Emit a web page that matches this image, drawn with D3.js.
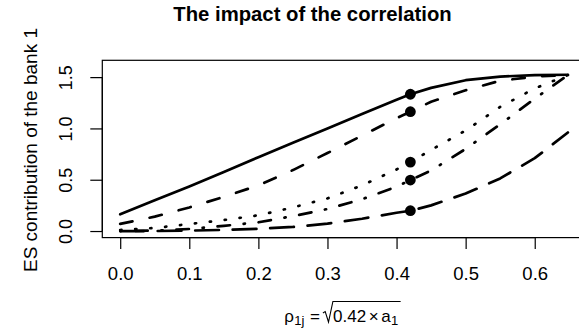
<!DOCTYPE html>
<html>
<head>
<meta charset="utf-8">
<script src="https://cdn.jsdelivr.net/npm/d3@7"></script>
<style>
  body { margin: 0; background: #fff; }
  svg { display: block; font-family: "Liberation Sans", Arial, sans-serif; }
</style>
</head>
<body>
<div id="chart"></div>
<script>
// rho_1j values where the ES contribution was evaluated
const rho = [0, 0.05, 0.1, 0.15, 0.2, 0.25, 0.3, 0.35, 0.4, 0.42, 0.45, 0.5, 0.55, 0.6, 0.648];

// ES contribution of bank 1, one array per curve
const esSolid    = [0.163, 0.30, 0.435, 0.575, 0.72, 0.86, 1.00, 1.14, 1.28, 1.333, 1.395, 1.47, 1.505, 1.52, 1.523];
const esDashed   = [0.07, 0.14, 0.23, 0.333, 0.445, 0.594, 0.76, 0.93, 1.10, 1.163, 1.26, 1.372, 1.465, 1.505, 1.52];
const esDotted   = [0.01, 0.03, 0.068, 0.107, 0.153, 0.23, 0.318, 0.445, 0.60, 0.672, 0.79, 0.98, 1.21, 1.39, 1.52];
const esDotDash  = [0, 0.004, 0.02, 0.05, 0.085, 0.145, 0.215, 0.31, 0.432, 0.497, 0.59, 0.80, 1.04, 1.29, 1.52];
const esLongDash = [0, 0, 0.004, 0.011, 0.022, 0.04, 0.072, 0.12, 0.178, 0.198, 0.25, 0.365, 0.513, 0.71, 0.96];

// marked point on each curve
const markRho = 0.42;

const xTicks = [0, 0.1, 0.2, 0.3, 0.4, 0.5, 0.6];
const yTicks = [0, 0.5, 1.0, 1.5];

const titleText = "The impact of the correlation";
const yLabel = "ES contribution of the bank 1";

const series = [
  { values: esSolid,    dash: null },
  { values: esDashed,   dash: "12.5 17.5" },
  { values: esDotted,   dash: "1.25 13.75" },
  { values: esDotDash,  dash: "1.25 13.75 12.5 13.75" },
  { values: esLongDash, dash: "23.75 13.75" }
];

const W = 579, H = 331;
const BOX = { LEFT: 102.3, RIGHT: 585.8, TOP: 60.3, BOTTOM: 237.6 };
const FONT = "Liberation Sans, Arial, sans-serif";

const svg = d3.select("#chart").append("svg")
  .attr("width", W)
  .attr("height", H);

// R style 4% padding around data range
const xPad = (d3.max(rho) - 0) * 0.04;
const x = d3.scaleLinear()
  .domain([0 - xPad, d3.max(rho) + xPad])
  .range([BOX.LEFT, BOX.RIGHT]);

const yPad = 1.6 * 0.04;
const y = d3.scaleLinear()
  .domain([0 - yPad, 1.6 + yPad])
  .range([BOX.BOTTOM, BOX.TOP]);

// title
svg.append("text")
  .attr("x", 312.5)
  .attr("y", 20.5)
  .attr("text-anchor", "middle")
  .attr("font-size", "20.3px")
  .attr("font-weight", "bold")
  .text(titleText);

// box
svg.append("rect")
  .attr("x", BOX.LEFT)
  .attr("y", BOX.TOP)
  .attr("width", BOX.RIGHT - BOX.LEFT)
  .attr("height", BOX.BOTTOM - BOX.TOP)
  .attr("fill", "none")
  .attr("stroke", "#000")
  .attr("stroke-width", 1.2);

// x axis
const xAxis = d3.axisBottom(x)
  .tickValues(xTicks)
  .tickSize(11.5)
  .tickPadding(0)
  .tickFormat(d3.format(".1f"));

const gx = svg.append("g")
  .attr("transform", `translate(0, ${BOX.BOTTOM})`)
  .call(xAxis);
gx.select(".domain")
  .attr("d", `M${x(xTicks[0])},0H${x(xTicks[xTicks.length - 1])}`)
  .attr("stroke-width", 1.2);
gx.selectAll(".tick line").attr("stroke-width", 1.2);
gx.selectAll(".tick text")
  .attr("y", 42.4)
  .attr("dy", null)
  .attr("font-size", "18.5px")
  .attr("font-family", FONT)
  .attr("fill", "#000");

// y axis, labels rotated like base R
const yAxis = d3.axisLeft(y)
  .tickValues(yTicks)
  .tickSize(12)
  .tickFormat(d3.format(".1f"));

const gy = svg.append("g")
  .attr("transform", `translate(${BOX.LEFT}, 0)`)
  .call(yAxis);
gy.select(".domain")
  .attr("d", `M0,${y(yTicks[0])}V${y(yTicks[yTicks.length - 1])}`)
  .attr("stroke-width", 1.2);
gy.selectAll(".tick line").attr("stroke-width", 1.2);
gy.selectAll(".tick text")
  .attr("x", null)
  .attr("dy", null)
  .attr("text-anchor", "middle")
  .attr("transform", "translate(-30.5, 0) rotate(-90)")
  .attr("font-size", "18px")
  .attr("font-family", FONT)
  .attr("fill", "#000");

// y label
svg.append("text")
  .attr("transform", `translate(36.5, 150) rotate(-90)`)
  .attr("text-anchor", "middle")
  .attr("font-size", "19px")
  .text(yLabel);

// curves
const line = d3.line()
  .x((d) => x(d[0]))
  .y((d) => y(d[1]));

const plot = svg.append("g");

series.forEach((s) => {
  plot.append("path")
    .datum(rho.map((r, i) => [r, s.values[i]]))
    .attr("d", line)
    .attr("fill", "none")
    .attr("stroke", "#000")
    .attr("stroke-width", 2.7)
    .attr("stroke-linecap", "round")
    .attr("stroke-linejoin", "round")
    .attr("stroke-dasharray", s.dash);
});

// points at rho = 0.42
const mi = rho.indexOf(markRho);
plot.selectAll("circle")
  .data(series)
  .enter()
  .append("circle")
  .attr("cx", x(markRho))
  .attr("cy", (d) => y(d.values[mi]))
  .attr("r", 5.4)
  .attr("fill", "#000");

// x label: rho_1j = sqrt(0.42 x a_1)
const xl = svg.append("g");
const baseY = 321.5;
let cx = 0;
function piece(str, size, dy, gap) {
  const t = xl.append("text")
    .attr("x", cx)
    .attr("y", baseY + dy)
    .attr("font-size", size)
    .text(str);
  cx += t.node().getComputedTextLength() + gap;
}
piece("\u03C1", "17px", 0, 0.3);
piece("1j", "13px", 3.5, 5.5);
piece("=", "17px", 0, 3);
const radStart = cx;
cx += 10.2;
piece("0.42", "17px", 0, 2.5);
piece("\u00D7", "17px", 0, 2.5);
piece("a", "17px", 0, 0.3);
piece("1", "13px", 3.5, 2.5);
const radEnd = cx;
xl.append("path")
  .attr("d", `M${radStart},${baseY - 8.5}L${radStart + 2.3},${baseY - 10}L${radStart + 5.6},${baseY + 0.5}L${radStart + 10},${baseY - 20}H${radEnd}`)
  .attr("fill", "none")
  .attr("stroke", "#000")
  .attr("stroke-width", 1.1);
xl.attr("transform", `translate(${342.5 - cx / 2}, 0)`);
</script>
</body>
</html>
